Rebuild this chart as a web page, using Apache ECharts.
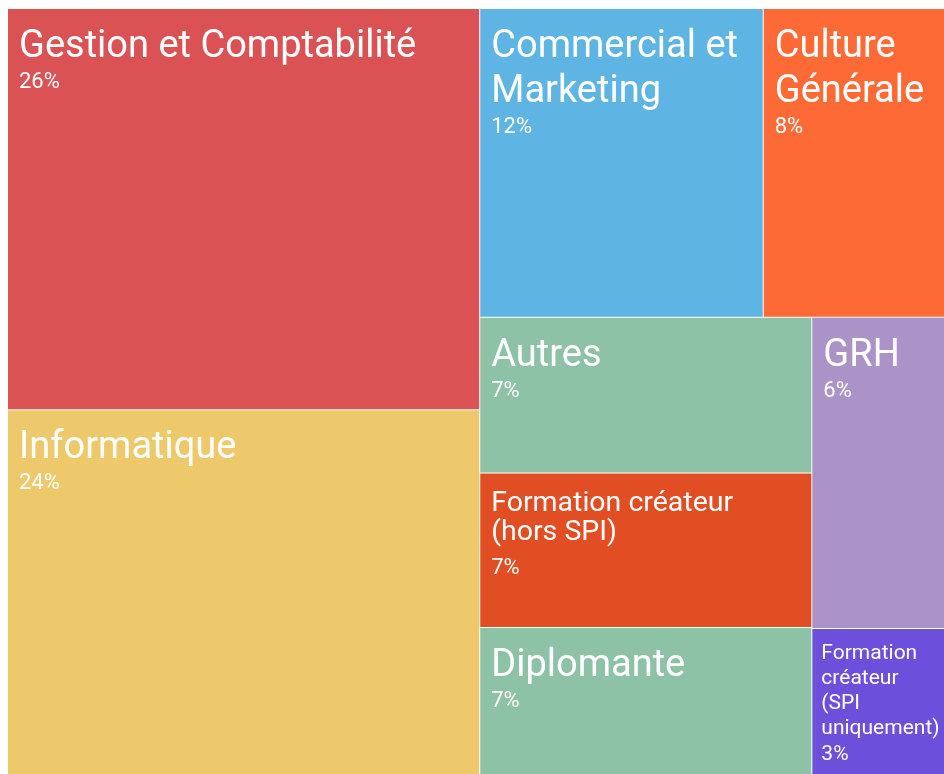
<!DOCTYPE html>
<html>
<head>
<meta charset="utf-8">
<script src="https://cdn.jsdelivr.net/npm/echarts@6/dist/echarts.min.js"></script>
<style>
  html, body { margin: 0; padding: 0; background: #fff; }
  #treemap { width: 944px; height: 774px; }
</style>
</head>
<body>
<div id="treemap"></div>
<script>
// catégories, part (surface) et libellé de pourcentage
const names = [
  "Gestion et Comptabilité",
  "Informatique",
  "Commercial et Marketing",
  "Culture Générale",
  "Autres",
  "Formation créateur (hors SPI)",
  "Diplomante",
  "GRH",
  "Formation créateur (SPI uniquement)",
];
const values = [26.4, 24.0, 12.2, 7.8, 7.2, 7.15, 6.8, 5.75, 2.7];
const shares = ["26%", "24%", "12%", "8%", "7%", "7%", "7%", "6%", "3%"];

const colors = [
  "#da5254", "#edc96b", "#5eb5e3", "#fe6a36", "#8dc2a6",
  "#e24e24", "#8dc2a6", "#ab93c8", "#6c50dc",
];

// retours à la ligne des libellés
const lineBreaks = {
  "Commercial et Marketing": ["Commercial et", "Marketing"],
  "Culture Générale": ["Culture", "Générale"],
  "Formation créateur (hors SPI)": ["Formation créateur", "(hors SPI)"],
  "Formation créateur (SPI uniquement)": ["Formation", "créateur", "(SPI", "uniquement)"],
};

// tailles de texte selon la case
const textSizes = {
  big: {
    padding: [16, 11, 0, 11],
    name: { fontSize: 38, lineHeight: 45 },
    pct: { fontSize: 22, lineHeight: 25 },
  },
  mid: {
    padding: [16, 11, 0, 11],
    name: { fontSize: 28.5, lineHeight: 29 },
    pct: { fontSize: 22, lineHeight: 43 },
  },
  small: {
    padding: [12, 9, 0, 9],
    name: { fontSize: 21, lineHeight: 25 },
    pct: { fontSize: 21, lineHeight: 27 },
  },
};
const sizeOf = {
  "Formation créateur (hors SPI)": "mid",
  "Formation créateur (SPI uniquement)": "small",
};

const chart = echarts.init(document.getElementById("treemap"));

const data = names.map((name, i) => {
  const size = textSizes[sizeOf[name] || "big"];
  return {
    name: name,
    value: values[i],
    share: shares[i],
    itemStyle: { color: colors[i] },
    label: {
      padding: size.padding,
      rich: {
        n: Object.assign({ color: "#fff", fontFamily: "Roboto" }, size.name),
        p: Object.assign({ color: "#fff", fontFamily: "Roboto" }, size.pct),
      },
    },
  };
});

const option = {
  animation: false,
  series: [
    {
      type: "treemap",
      left: 8,
      top: 9,
      right: 0,
      bottom: 0,
      roam: false,
      nodeClick: false,
      breadcrumb: { show: false },
      levels: [
        {
          itemStyle: { gapWidth: 1, borderWidth: 0, borderColor: "#fff" },
        },
      ],
      label: {
        show: true,
        position: "insideTopLeft",
        overflow: "none",
        lineOverflow: "none",
        formatter: (params) => {
          const lines = lineBreaks[params.name] || [params.name];
          return "{n|" + lines.join("\n") + "}\n{p|" + params.data.share + "}";
        },
      },
      upperLabel: { show: false },
      emphasis: { disabled: true },
      data: data,
    },
  ],
};

chart.setOption(option);
</script>
</body>
</html>
